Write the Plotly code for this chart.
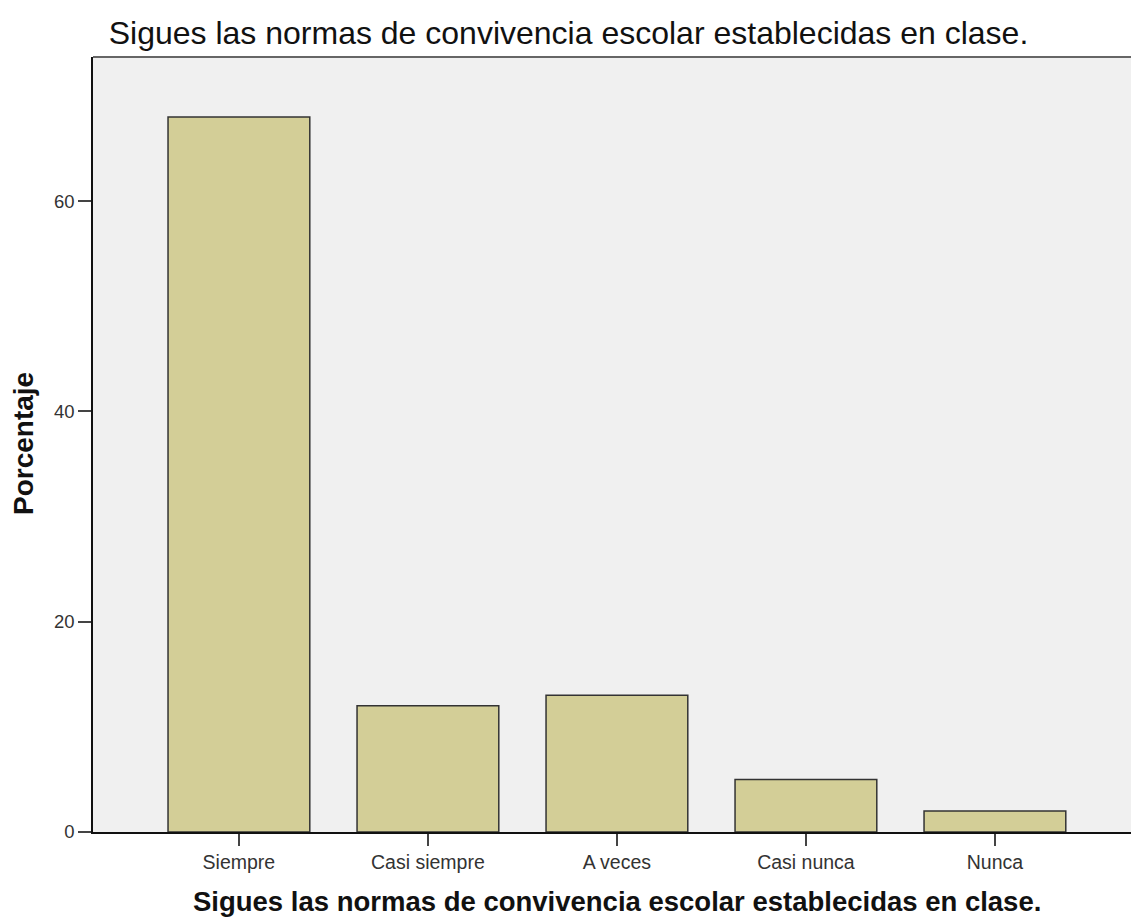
import plotly.graph_objects as go

categories = ["Siempre", "Casi siempre", "A veces", "Casi nunca", "Nunca"]
values = [68.0, 12.0, 13.0, 5.0, 2.0]
y_ticks = [0, 20, 40, 60]

title_text = "Sigues las normas de convivencia escolar establecidas en clase."
x_title = "Sigues las normas de convivencia escolar establecidas en clase."
y_title = "Porcentaje"

W, H = 1131, 917
ml, mr, mt, mb = 93, 0, 57, 85
pw = W - ml - mr
ph = H - mt - mb

def px_x(px):
    return (px - ml) / pw

def px_y(py):
    return (H - mb - py) / ph

fig = go.Figure()
fig.add_trace(go.Bar(
    x=list(range(len(categories))),
    y=values,
    width=0.75,
    marker=dict(color="#D3CE97", line=dict(color="#333333", width=1.5)),
    hoverinfo="x+y",
))

fig.update_layout(
    width=W, height=H,
    margin=dict(l=ml, r=mr, t=mt, b=mb),
    paper_bgcolor="white",
    plot_bgcolor="#F0F0F0",
    font=dict(family="Liberation Sans, Arial, sans-serif", color="#222222"),
    showlegend=False,
    title=dict(
        text=title_text,
        font=dict(size=32, family="Liberation Sans, Arial, sans-serif", color="#111111"),
        x=568.5 / W, xanchor="center", xref="container",
        y=1 - 33 / H, yanchor="middle", yref="container",
    ),
)

fig.update_xaxes(
    range=[-0.772, 4.72],
    tickmode="array",
    tickvals=list(range(len(categories))),
    ticktext=categories,
    ticks="outside", ticklen=12, tickwidth=1.5, tickcolor="#444444",
    tickfont=dict(size=19.5, color="#333333"),
    showline=True, linecolor="#111111", linewidth=1.5,
    showgrid=False, zeroline=False,
)
fig.update_yaxes(
    range=[0, 73.7],
    tickmode="array",
    tickvals=y_ticks,
    ticktext=[str(v) for v in y_ticks],
    ticks="outside", ticklen=13, tickwidth=1.5, tickcolor="#444444",
    tickfont=dict(size=18.5, color="#333333"),
    showline=True, linecolor="#111111", linewidth=1.5,
    showgrid=False, zeroline=False,
)

# top border of the plot frame
fig.add_shape(type="line", xref="paper", yref="paper", x0=0, x1=1, y0=1, y1=1,
              line=dict(color="#666666", width=2))

fig.add_annotation(
    text="<b>" + x_title + "</b>", xref="paper", yref="paper",
    x=px_x(616.5), y=px_y(901), xanchor="center", yanchor="middle",
    showarrow=False, font=dict(size=27.5, color="#111111"),
)
fig.add_annotation(
    text="<b>" + y_title + "</b>", xref="paper", yref="paper",
    x=px_x(23), y=px_y(444), xanchor="center", yanchor="middle",
    textangle=-90, showarrow=False, font=dict(size=28, color="#111111"),
)

fig.write_html("out.html", config={"displayModeBar": False},
               post_script="document.body.style.margin='0px';")
